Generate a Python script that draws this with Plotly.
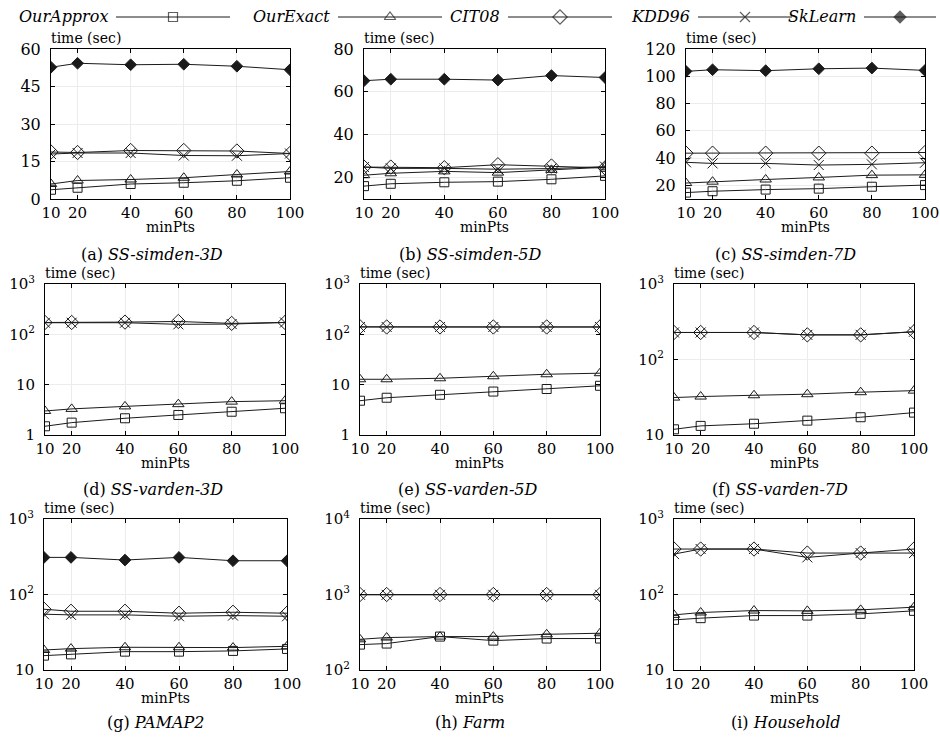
import plotly.graph_objects as go

W, H = 940, 738
FONT = "DejaVu Serif"

minpts = [10, 20, 40, 60, 80, 100]
series_names = ["OurApprox", "OurExact", "CIT08", "KDD96", "SkLearn"]

# (a) SS-simden-3D
simden3d_approx = [3.7, 4.5, 6.0, 6.5, 7.3, 8.5]
simden3d_exact = [6.0, 7.4, 7.8, 8.5, 9.8, 11.0]
simden3d_cit08 = [18.8, 18.6, 19.4, 19.4, 19.2, 18.2]
simden3d_kdd96 = [18.0, 18.4, 18.4, 17.4, 17.3, 18.2]
simden3d_sklearn = [52.7, 54.3, 53.7, 53.9, 53.1, 51.7]
# (b) SS-simden-5D
simden5d_approx = [16.0, 17.1, 17.8, 18.1, 19.2, 20.8]
simden5d_exact = [21.1, 22.0, 22.9, 22.3, 23.6, 24.8]
simden5d_cit08 = [24.9, 24.9, 24.6, 26.0, 25.4, 24.5]
simden5d_kdd96 = [24.9, 24.3, 24.3, 23.9, 24.2, 25.1]
simden5d_sklearn = [65.2, 65.9, 65.9, 65.5, 67.6, 66.7]
# (c) SS-simden-7D
simden7d_approx = [14.7, 15.7, 16.9, 17.6, 19.0, 20.2]
simden7d_exact = [21.7, 22.7, 24.3, 25.8, 27.5, 27.7]
simden7d_cit08 = [43.6, 43.6, 43.6, 43.6, 43.6, 44.1]
simden7d_kdd96 = [36.9, 36.1, 36.1, 34.9, 35.4, 36.6]
simden7d_sklearn = [103.6, 104.8, 104.1, 105.5, 106.0, 104.3]
# (d) SS-varden-3D
varden3d_approx = [1.49, 1.76, 2.15, 2.5, 2.9, 3.4]
varden3d_exact = [3.0, 3.3, 3.7, 4.1, 4.6, 4.8]
varden3d_cit08 = [172, 172, 175, 180, 165, 172]
varden3d_kdd96 = [170, 170, 170, 158, 160, 172]
varden3d_sklearn = [None] * 6
# (e) SS-varden-5D
varden5d_approx = [4.8, 5.5, 6.3, 7.3, 8.2, 9.5]
varden5d_exact = [12.8, 12.8, 13.4, 14.7, 16.1, 16.9]
varden5d_cit08 = [141, 140, 140, 140, 140, 140]
varden5d_kdd96 = [140, 140, 140, 140, 140, 140]
varden5d_sklearn = [None] * 6
# (f) SS-varden-7D
varden7d_approx = [11.9, 13.2, 14.1, 15.5, 17.2, 19.8]
varden7d_exact = [31.3, 32.3, 33.6, 34.7, 36.9, 38.7]
varden7d_cit08 = [228, 228, 228, 212, 212, 233]
varden7d_kdd96 = [228, 228, 228, 212, 212, 233]
varden7d_sklearn = [None] * 6
# (g) PAMAP2
pamap2_approx = [15.5, 16.1, 17.5, 17.5, 17.9, 19.0]
pamap2_exact = [18.4, 19.2, 20.0, 20.0, 19.8, 20.6]
pamap2_cit08 = [63.8, 60.0, 60.0, 56.5, 58.2, 56.5]
pamap2_kdd96 = [54.8, 53.7, 53.7, 51.5, 52.6, 51.5]
pamap2_sklearn = [310, 310, 286, 310, 280, 280]
# (h) Farm
farm_approx = [217, 224, 277, 245, 261, 261]
farm_exact = [255, 269, 277, 277, 297, 307]
farm_cit08 = [1000, 1000, 1000, 1000, 1000, 1000]
farm_kdd96 = [990, 990, 990, 990, 990, 990]
farm_sklearn = [None] * 6
# (i) Household
household_approx = [46.1, 48.6, 52.6, 52.6, 55.4, 60.7]
household_exact = [53.7, 57.7, 61.3, 60.7, 62.6, 67.9]
household_cit08 = [400, 400, 400, 354, 354, 400]
household_kdd96 = [343, 400, 400, 310, 354, 354]
household_sklearn = [None] * 6

panel_titles = ["(a) <i>SS-simden-3D</i>", "(b) <i>SS-simden-5D</i>", "(c) <i>SS-simden-7D</i>",
                "(d) <i>SS-varden-3D</i>", "(e) <i>SS-varden-5D</i>", "(f) <i>SS-varden-7D</i>",
                "(g) <i>PAMAP2</i>", "(h) <i>Farm</i>", "(i) <i>Household</i>"]

panel_data = [
    [simden3d_approx, simden3d_exact, simden3d_cit08, simden3d_kdd96, simden3d_sklearn],
    [simden5d_approx, simden5d_exact, simden5d_cit08, simden5d_kdd96, simden5d_sklearn],
    [simden7d_approx, simden7d_exact, simden7d_cit08, simden7d_kdd96, simden7d_sklearn],
    [varden3d_approx, varden3d_exact, varden3d_cit08, varden3d_kdd96, varden3d_sklearn],
    [varden5d_approx, varden5d_exact, varden5d_cit08, varden5d_kdd96, varden5d_sklearn],
    [varden7d_approx, varden7d_exact, varden7d_cit08, varden7d_kdd96, varden7d_sklearn],
    [pamap2_approx, pamap2_exact, pamap2_cit08, pamap2_kdd96, pamap2_sklearn],
    [farm_approx, farm_exact, farm_cit08, farm_kdd96, farm_sklearn],
    [household_approx, household_exact, household_cit08, household_kdd96, household_sklearn],
]

SUP = lambda e: "10<sup>%d</sup>" % e
linear_ticks = [[0, 15, 30, 45, 60], [20, 40, 60, 80], [20, 40, 60, 80, 100, 120]]
linear_ranges = [[0, 60], [10, 80], [10, 120]]
log_ranges = [[0, 3], [0, 3], [1, 3], [1, 3], [2, 4], [1, 3]]
log_tickvals = [[1, 10, 100, 1000], [1, 10, 100, 1000], [10, 100, 1000],
                [10, 100, 1000], [100, 1000, 10000], [10, 100, 1000]]
log_ticktext = [["1", "10", SUP(2), SUP(3)], ["1", "10", SUP(2), SUP(3)], ["10", SUP(2), SUP(3)],
                ["10", SUP(2), SUP(3)], [SUP(2), SUP(3), SUP(4)], ["10", SUP(2), SUP(3)]]

col_x = [[(51, 290), (364, 605), (686, 925)],
         [(45, 285), (360, 600), (674, 914)],
         [(44, 287), (360, 600), (674, 914)]]
row_y = [(49, 199), (284, 435), (519, 670)]
title_x = [[152, 470, 785], [153, 468, 780], [156, 470, 786]]
title_y = [255, 490, 722]
minpts_gap = 28

styles = [
    dict(symbol="square-open", size=9),
    dict(symbol="triangle-up-open", size=10),
    dict(symbol="diamond-open", size=11),
    dict(symbol="x-thin-open", size=10),
    dict(symbol="diamond", size=9),
]
LINE_COLOR = "#1a1a1a"

fig = go.Figure()
annotations = []

for idx in range(9):
    r, c = divmod(idx, 3)
    n = idx + 1
    xa = "x" if n == 1 else "x%d" % n
    ya = "y" if n == 1 else "y%d" % n
    (xl, xr) = col_x[r][c]
    (yt, yb) = row_y[r]
    for s in range(5):
        vals = panel_data[idx][s]
        if all(v is None for v in vals):
            continue
        st = styles[s]
        fig.add_trace(go.Scatter(
            x=minpts, y=vals, mode="lines+markers", xaxis=xa, yaxis=ya,
            name=series_names[s], showlegend=False,
            line=dict(color=LINE_COLOR, width=1),
            marker=dict(symbol=st["symbol"], size=st["size"], color=LINE_COLOR,
                        line=dict(color=LINE_COLOR, width=1)),
        ))
    xkey = "xaxis" if n == 1 else "xaxis%d" % n
    ykey = "yaxis" if n == 1 else "yaxis%d" % n
    common = dict(showline=True, linecolor="black", linewidth=1, mirror="ticks",
                  ticks="inside", ticklen=4, tickcolor="black", zeroline=False,
                  showgrid=True, gridcolor="#ececec", gridwidth=1, automargin=False,
                  ticklabeloverflow="allow")
    fig.update_layout(**{xkey: dict(domain=[xl / W, xr / W], anchor=ya, range=[10, 100],
                                    tickvals=minpts, ticktext=[str(v) for v in minpts],
                                    ticklabelstandoff=0,
                                    tickfont=dict(family=FONT, size=15, color="black"), **common)})
    if r == 0:
        yax = dict(domain=[1 - yb / H, 1 - yt / H], anchor=xa, range=linear_ranges[c],
                   tickvals=linear_ticks[c], ticklabelstandoff=6,
                   tickfont=dict(family=FONT, size=16, color="black"), **common)
    else:
        k = (r - 1) * 3 + c
        yax = dict(domain=[1 - yb / H, 1 - yt / H], anchor=xa, type="log", range=log_ranges[k],
                   tickvals=log_tickvals[k], ticktext=log_ticktext[k], ticklabelstandoff=6,
                   tickfont=dict(family=FONT, size=15, color="black"), **common)
    fig.update_layout(**{ykey: yax})
    annotations.append(dict(text="time (sec)", xref="paper", yref="paper",
                            x=(xl - 2) / W, y=1 - (yt - 1) / H, xanchor="left", yanchor="bottom",
                            showarrow=False, font=dict(family=FONT, size=14, color="black")))
    annotations.append(dict(text="minPts", xref="paper", yref="paper",
                            x=(xl + xr) / 2 / W, y=1 - (yb + minpts_gap) / H, xanchor="center",
                            yanchor="middle", showarrow=False,
                            font=dict(family=FONT, size=14, color="black")))
    annotations.append(dict(text=panel_titles[idx], xref="paper", yref="paper",
                            x=title_x[r][c] / W, y=1 - title_y[r] / H, xanchor="center",
                            yanchor="middle", showarrow=False,
                            font=dict(family=FONT, size=16, color="black")))

# custom legend: italic name followed by a line glyph with the marker in the middle
legend_text_right = [110, 332, 502, 692, 858]
legend_line_span = [(116, 230), (338, 442), (508, 612), (698, 792), (864, 936)]
legend_y = 17
for s in range(5):
    st = styles[s]
    a, b = legend_line_span[s]
    fig.add_trace(go.Scatter(
        x=[a, (a + b) / 2, b], y=[legend_y] * 3, mode="lines+markers",
        xaxis="x10", yaxis="y10", showlegend=False, hoverinfo="skip",
        line=dict(color=LINE_COLOR, width=1),
        marker=dict(symbol=st["symbol"], size=[0, st["size"], 0], color=LINE_COLOR,
                    line=dict(color=LINE_COLOR, width=[0, 1.2, 0])),
    ))
    annotations.append(dict(text="<i>%s</i>" % series_names[s], xref="paper", yref="paper",
                            x=legend_text_right[s] / W, y=1 - legend_y / H,
                            xanchor="right", yanchor="middle", showarrow=False,
                            font=dict(family=FONT, size=16, color="black")))

fig.update_layout(
    xaxis10=dict(domain=[0, 1], range=[0, W], visible=False, fixedrange=True),
    yaxis10=dict(domain=[1 - 34 / H, 1], range=[34, 0], visible=False, anchor="x10", fixedrange=True),
)

fig.update_layout(width=W, height=H,
                  margin=dict(l=0, r=0, t=0, b=0, pad=0, autoexpand=False),
                  paper_bgcolor="white", plot_bgcolor="white",
                  annotations=annotations, showlegend=False,
                  font=dict(family=FONT, color="black"))

fig.write_html("out.html", post_script="document.body.style.margin='0';")
